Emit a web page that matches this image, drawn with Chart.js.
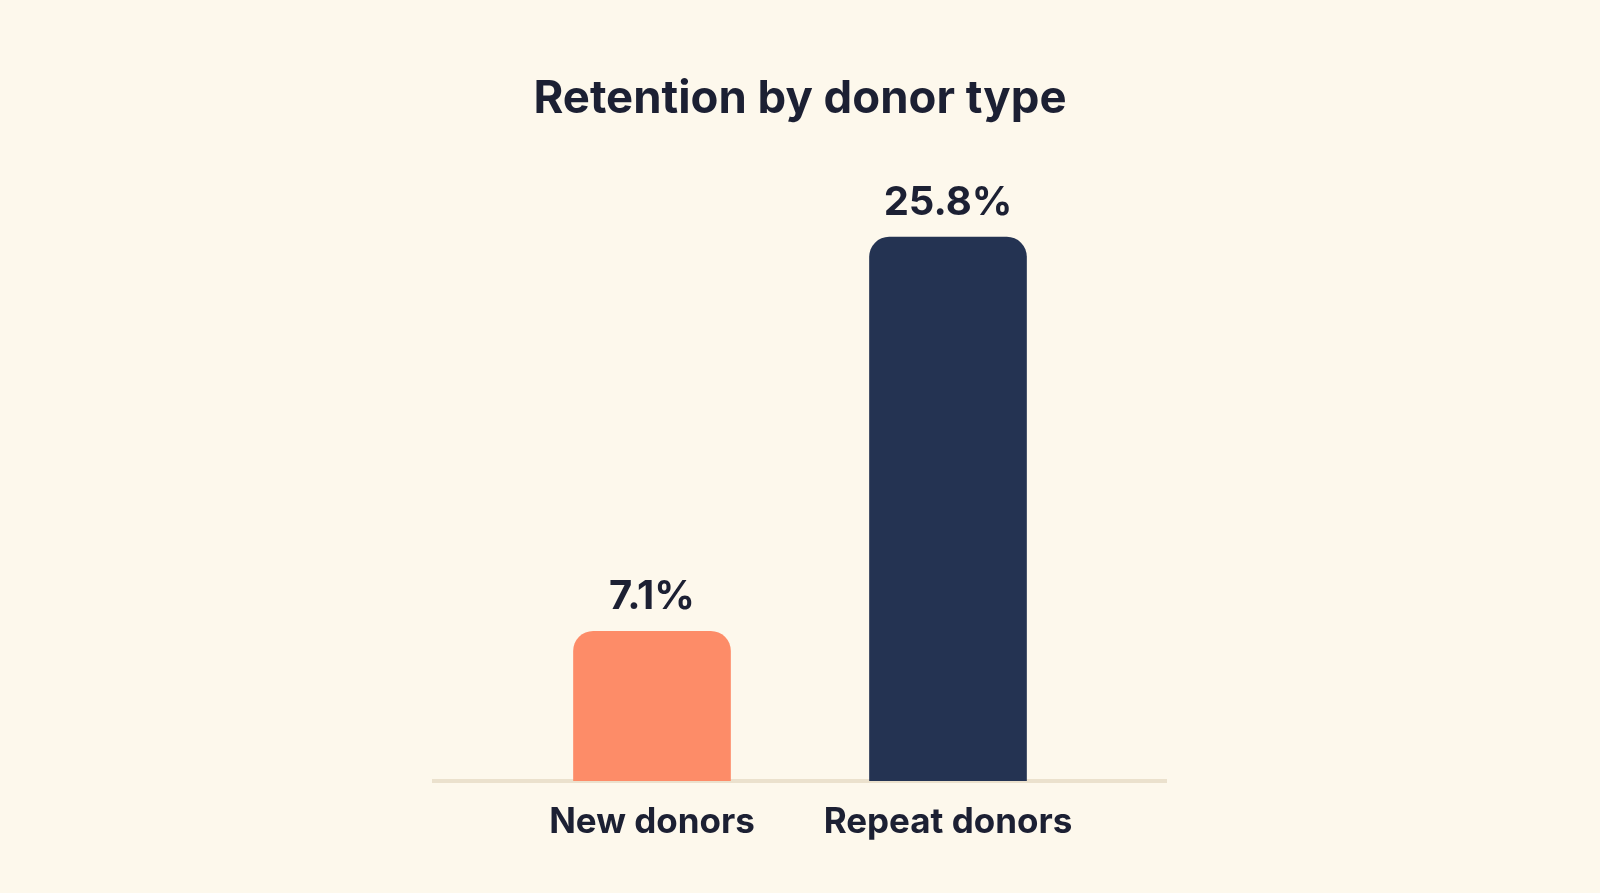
<!DOCTYPE html>
<html>
<head>
<meta charset="utf-8">
<script src="https://cdn.jsdelivr.net/npm/chart.js@4.4.1/dist/chart.umd.min.js"></script>
<style>
  html, body { margin: 0; padding: 0; background: #fdf8ec; }
  #wrap { width: 1600px; height: 893px; }
</style>
</head>
<body>
<div id="wrap"><canvas id="retentionChart"></canvas></div>
<script>
// chart data
const categories = ["New donors", "Repeat donors"];
const retention = [7.1, 25.8];
const barColors = ["#fd8c68", "#243352"];
const valueLabels = ["7.1%", "25.8%"];

const textColor = "#1c2033";
const fontFamily = "Inter, 'Noto Sans', sans-serif";

// value labels above each bar
const valueLabelPlugin = {
  id: "valueLabels",
  afterDatasetsDraw(chart) {
    const { ctx } = chart;
    const meta = chart.getDatasetMeta(0);
    ctx.save();
    ctx.font = "700 40px " + fontFamily;
    ctx.fillStyle = textColor;
    ctx.textAlign = "center";
    ctx.textBaseline = "middle";
    meta.data.forEach((bar, i) => {
      ctx.fillText(valueLabels[i], bar.x, bar.y - 34);
    });
    ctx.restore();
  }
};

const ctx = document.getElementById("retentionChart").getContext("2d");
new Chart(ctx, {
  type: "bar",
  data: {
    datasets: [{
      data: retention.map((v, i) => ({ x: i, y: v })),
      backgroundColor: barColors,
      borderRadius: { topLeft: 20, topRight: 20, bottomLeft: 0, bottomRight: 0 },
      borderSkipped: "bottom",
      barThickness: 157
    }]
  },
  options: {
    responsive: true,
    maintainAspectRatio: false,
    animation: false,
    layout: { padding: { left: 434, right: 434, top: 0, bottom: 30 } },
    plugins: {
      legend: { display: false },
      tooltip: { enabled: false },
      title: {
        display: true,
        text: "Retention by donor type",
        color: textColor,
        font: { family: fontFamily, size: 45.5, weight: "700" },
        padding: { top: 72, bottom: 22 }
      }
    },
    scales: {
      x: {
        type: "linear",
        offset: false,
        min: -0.7365,
        max: 1.7365,
        afterBuildTicks: (scale) => {
          scale.ticks = categories.map((c, i) => ({ value: i }));
        },
        grid: { display: false, drawTicks: false },
        border: { display: true, color: "#ebe1cd", width: 4 },
        ticks: {
          color: textColor,
          padding: 20,
          autoSkip: false,
          maxRotation: 0,
          font: { family: fontFamily, size: 35, weight: "700" },
          callback: (v) => categories[v]
        }
      },
      y: {
        display: false,
        min: 0,
        max: 30
      }
    }
  },
  plugins: [valueLabelPlugin]
});
</script>
</body>
</html>
